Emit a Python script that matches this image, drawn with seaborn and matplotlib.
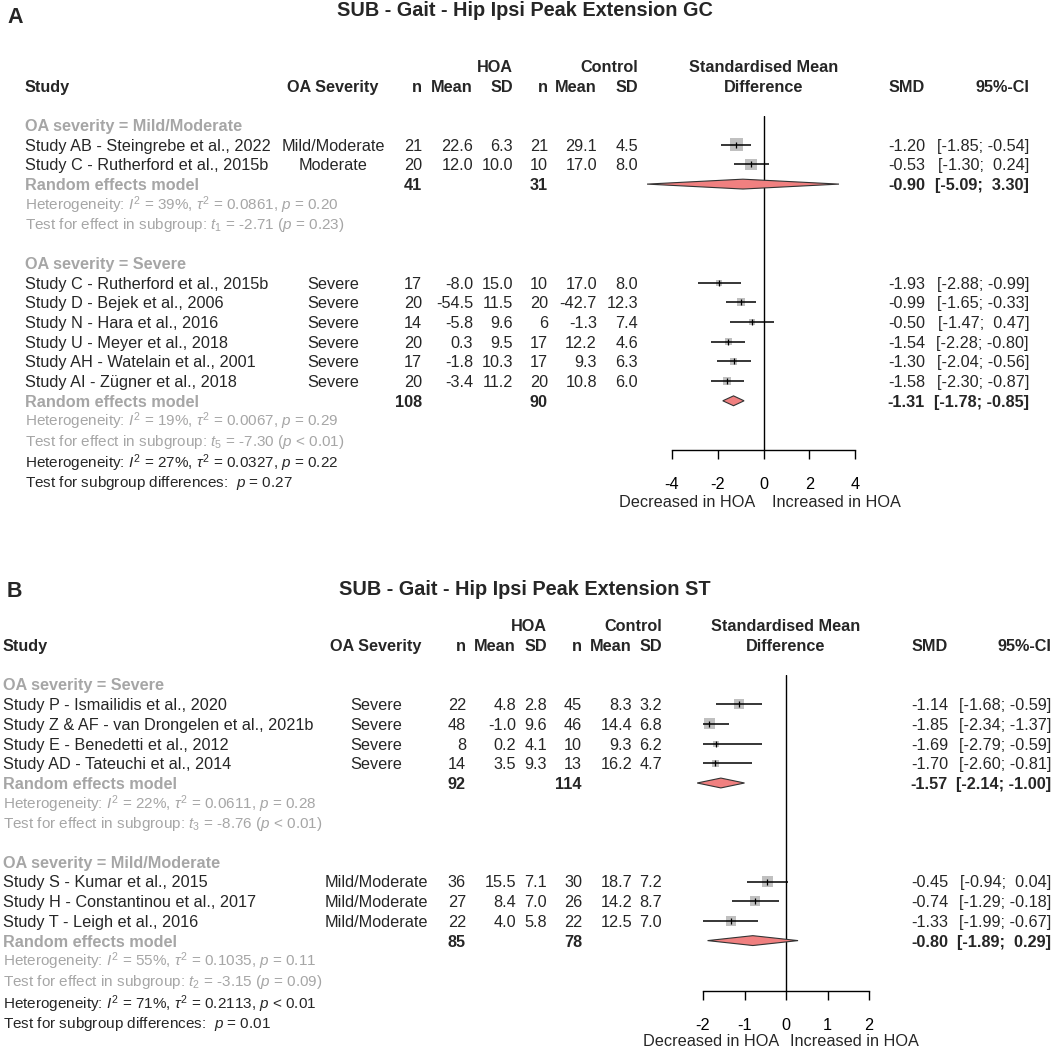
import numpy as np
import pandas as pd
import matplotlib
matplotlib.use("Agg")
import matplotlib.pyplot as plt
import matplotlib.transforms as mtransforms
import seaborn as sns

# ---------------- Panel A data ----------------
a_title = "SUB - Gait - Hip Ipsi Peak Extension GC"
a_groups = ["Mild/Moderate", "Severe"]
a_study = ["Study AB - Steingrebe et al., 2022", "Study C - Rutherford et al., 2015b",
           "Study C - Rutherford et al., 2015b", "Study D - Bejek et al., 2006",
           "Study N - Hara et al., 2016", "Study U - Meyer et al., 2018",
           "Study AH - Watelain et al., 2001", "Study AI - Zügner et al., 2018"]
a_group = ["Mild/Moderate", "Mild/Moderate", "Severe", "Severe", "Severe", "Severe", "Severe", "Severe"]
a_severity = ["Mild/Moderate", "Moderate", "Severe", "Severe", "Severe", "Severe", "Severe", "Severe"]
a_hoa_n = [21, 20, 17, 20, 14, 20, 17, 20]
a_hoa_mean = [22.6, 12.0, -8.0, -54.5, -5.8, 0.3, -1.8, -3.4]
a_hoa_sd = [6.3, 10.0, 15.0, 11.5, 9.6, 9.5, 10.3, 11.2]
a_ctl_n = [21, 10, 10, 20, 6, 17, 17, 20]
a_ctl_mean = [29.1, 17.0, 17.0, -42.7, -1.3, 12.2, 9.3, 10.8]
a_ctl_sd = [4.5, 8.0, 8.0, 12.3, 7.4, 4.6, 6.3, 6.0]
a_smd = [-1.20, -0.53, -1.93, -0.99, -0.50, -1.54, -1.30, -1.58]
a_lo = [-1.85, -1.30, -2.88, -1.65, -1.47, -2.28, -2.04, -2.30]
a_hi = [-0.54, 0.24, -0.99, -0.33, 0.47, -0.80, -0.56, -0.87]
a_weight = [55, 45, 11, 22, 11, 18, 18, 20]
a_re_hoa_n = [41, 108]
a_re_ctl_n = [31, 90]
a_re_smd = [-0.90, -1.31]
a_re_lo = [-5.09, -1.78]
a_re_hi = [3.30, -0.85]
a_i2 = [39, 19]
a_tau2 = ["0.0861", "0.0067"]
a_het_p = ["= 0.20", "= 0.29"]
a_t_df = [1, 5]
a_t = [-2.71, -7.30]
a_t_p = ["= 0.23", "< 0.01"]
a_all = (27, "0.0327", "= 0.22", "= 0.27")
a_ticks = [-4, -2, 0, 2, 4]

# ---------------- Panel B data ----------------
b_title = "SUB - Gait - Hip Ipsi Peak Extension ST"
b_groups = ["Severe", "Mild/Moderate"]
b_study = ["Study P - Ismailidis et al., 2020", "Study Z & AF - van Drongelen et al., 2021b",
           "Study E - Benedetti et al., 2012", "Study AD - Tateuchi et al., 2014",
           "Study S - Kumar et al., 2015", "Study H - Constantinou et al., 2017",
           "Study T - Leigh et al., 2016"]
b_group = ["Severe", "Severe", "Severe", "Severe", "Mild/Moderate", "Mild/Moderate", "Mild/Moderate"]
b_severity = b_group
b_hoa_n = [22, 48, 8, 14, 36, 27, 22]
b_hoa_mean = [4.8, -1.0, 0.2, 3.5, 15.5, 8.4, 4.0]
b_hoa_sd = [2.8, 9.6, 4.1, 9.3, 7.1, 7.0, 5.8]
b_ctl_n = [45, 46, 10, 13, 30, 26, 22]
b_ctl_mean = [8.3, 14.4, 9.3, 16.2, 18.7, 14.2, 12.5]
b_ctl_sd = [3.2, 6.8, 6.2, 4.7, 7.2, 8.7, 7.0]
b_smd = [-1.14, -1.85, -1.69, -1.70, -0.45, -0.74, -1.33]
b_lo = [-1.68, -2.34, -2.79, -2.60, -0.94, -1.29, -1.99]
b_hi = [-0.59, -1.37, -0.59, -0.81, 0.04, -0.18, -0.67]
b_weight = [33, 38, 12, 17, 37, 34, 29]
b_re_hoa_n = [92, 85]
b_re_ctl_n = [114, 78]
b_re_smd = [-1.57, -0.80]
b_re_lo = [-2.14, -1.89]
b_re_hi = [-1.00, 0.29]
b_i2 = [22, 55]
b_tau2 = ["0.0611", "0.1035"]
b_het_p = ["= 0.28", "= 0.11"]
b_t_df = [3, 2]
b_t = [-8.76, -3.15]
b_t_p = ["< 0.01", "= 0.09"]
b_all = (71, "0.2113", "< 0.01", "= 0.01")
b_ticks = [-2, -1, 0, 1, 2]

W, H = 1056, 1049
RH = 19.7
FS = 11.7
FS_HET = 11.0
GREY = "#A6A6A6"

sns.set_theme(style="white")
plt.rcParams["font.family"] = ["Liberation Sans", "DejaVu Sans"]
plt.rcParams["mathtext.fontset"] = "custom"
plt.rcParams["mathtext.rm"] = "Liberation Sans"
plt.rcParams["mathtext.it"] = "Liberation Sans:italic"
plt.rcParams["mathtext.bf"] = "Liberation Sans:bold"
plt.rcParams["axes.unicode_minus"] = False

fig = plt.figure(figsize=(W / 100, H / 100), dpi=100)


def ci_txt(lo, hi):
    f = lambda v: f"{v:.2f}" if v < 0 else f" {v:.2f}"
    return f"[{f(lo)}; {f(hi)}]"


def draw_panel(d, lay):
    y0 = lay["y0"]
    row = lambda py: (py - y0) / RH
    x0, x1 = lay["tick_px"]
    ax = fig.add_axes([x0 / W, 1 - lay["axis_px"] / H, (x1 - x0) / W,
                       (lay["axis_px"] - lay["top_px"]) / H])
    ax.patch.set_visible(False)
    tr = mtransforms.blended_transform_factory(fig.transFigure, ax.transData)
    c = lay["cols"]

    def put(col, r, s, ha="right", fs=FS, **kw):
        ax.text(c[col] / W, r + 0.3, s, transform=tr, ha=ha, va="baseline",
                fontsize=fs, clip_on=False, **kw)

    def mid(r, s, **kw):
        ax.text(0, r + 0.3, s, ha="center", va="baseline", fontsize=FS,
                fontweight="bold", clip_on=False, **kw)

    # headers
    put("sd1", -3, "HOA", fontweight="bold")
    put("sd2", -3, "Control", fontweight="bold")
    mid(-3, "Standardised Mean")
    put("study", -2, "Study", ha="left", fontweight="bold")
    put("sev", -2, "OA Severity", ha="center", fontweight="bold")
    for k, s in [("n1", "n"), ("m1", "Mean"), ("sd1", "SD"), ("n2", "n"),
                 ("m2", "Mean"), ("sd2", "SD"), ("smd", "SMD"), ("ci", "95%-CI")]:
        put(k, -2, s, fontweight="bold")
    mid(-2, "Difference")

    r = 0
    pts = []
    for g, grp in enumerate(d["groups"]):
        put("study", r, f"OA severity = {grp}", ha="left", color=GREY, fontweight="bold")
        r += 1
        for i in [i for i, s in enumerate(d["group"]) if s == grp]:
            put("study", r, d["study"][i], ha="left")
            put("sev", r, d["severity"][i], ha="center")
            put("n1", r, f"{d['hoa_n'][i]}")
            put("m1", r, f"{d['hoa_mean'][i]:.1f}")
            put("sd1", r, f"{d['hoa_sd'][i]:.1f}")
            put("n2", r, f"{d['ctl_n'][i]}")
            put("m2", r, f"{d['ctl_mean'][i]:.1f}")
            put("sd2", r, f"{d['ctl_sd'][i]:.1f}")
            put("smd", r, f"{d['smd'][i]:.2f}")
            put("ci", r, ci_txt(d["lo"][i], d["hi"][i]))
            pts.append((d["smd"][i], d["lo"][i], d["hi"][i], d["weight"][i], r))
            r += 1
        put("study", r, "Random effects model", ha="left", color=GREY, fontweight="bold")
        put("n1", r, f"{d['re_hoa_n'][g]}", fontweight="bold")
        put("n2", r, f"{d['re_ctl_n'][g]}", fontweight="bold")
        put("smd", r, f"{d['re_smd'][g]:.2f}", fontweight="bold")
        put("ci", r, ci_txt(d["re_lo"][g], d["re_hi"][g]), fontweight="bold")
        est, lo, hi = d["re_smd"][g], d["re_lo"][g], d["re_hi"][g]
        hh = 0.25
        ax.fill([lo, est, hi, est], [r, r - hh, r, r + hh], facecolor="#F08080",
                edgecolor="#333333", lw=0.8, clip_on=False, zorder=3)
        r += 1
        put("study", r, f"Heterogeneity: $I^2$ = {d['i2'][g]}%, $\\tau^2$ = {d['tau2'][g]}, "
                        f"$p$ {d['het_p'][g]}", ha="left", fs=FS_HET, color=GREY)
        r += 1
        put("study", r, f"Test for effect in subgroup: $t_{{{d['t_df'][g]}}}$ = {d['t'][g]:.2f} "
                        f"($p$ {d['t_p'][g]})", ha="left", fs=FS_HET, color=GREY)
        r += 2

    i2, tau2, hp, sp = d["all"]
    ro = row(lay["overall_px"])
    put("study", ro, f"Heterogeneity: $I^2$ = {i2}%, $\\tau^2$ = {tau2}, $p$ {hp}",
        ha="left", fs=FS_HET)
    put("study", ro + 0.95, f"Test for subgroup differences:  $p$ {sp}", ha="left", fs=FS_HET)

    df = pd.DataFrame(pts, columns=["smd", "lo", "hi", "weight", "row"])
    sns.scatterplot(data=df, x="smd", y="row", size="weight", sizes=(0, 160),
                    size_norm=(0, 100), marker="s", color="#C0C0C0", linewidth=0,
                    legend=False, ax=ax, zorder=2)
    ax.hlines(df["row"], df["lo"], df["hi"], color="black", lw=1.1, zorder=3)
    ax.scatter(df["smd"], df["row"], marker="|", s=14, color="black", lw=0.9, zorder=4)
    ax.axvline(0, color="black", lw=1, zorder=1)

    ticks = d["ticks"]
    ax.set_xlim(ticks[0], ticks[-1])
    ax.set_ylim(row(lay["axis_px"]), row(lay["top_px"]))
    ax.set_xticks(ticks)
    ax.set_xticklabels([str(t) for t in ticks])
    ax.set_yticks([])
    ax.set_xlabel("")
    ax.set_ylabel("")
    sns.despine(ax=ax, left=True)
    ax.spines["bottom"].set_color("black")
    ax.spines["bottom"].set_linewidth(1)
    ax.tick_params(axis="x", bottom=True, direction="out", length=6.5, width=1,
                   pad=13, labelsize=FS, colors="black")

    rd = row(lay["dec_px"]) + 0.3
    ax.annotate("Decreased in HOA", xy=(0, rd), xytext=(lay["dec_dx"] * 0.72, 0),
                textcoords="offset points", ha="right", va="baseline", fontsize=FS,
                annotation_clip=False)
    ax.annotate("Increased in HOA", xy=(0, rd), xytext=(lay["inc_dx"] * 0.72, 0),
                textcoords="offset points", ha="left", va="baseline", fontsize=FS,
                annotation_clip=False)

    fig.text(525 / W, 1 - lay["title_px"] / H, d["title"], ha="center", va="baseline",
             fontsize=14.3, fontweight="bold")
    fig.text(7 / W, 1 - lay["label_px"] / H, lay["label"], ha="left", va="baseline",
             fontsize=15.5, fontweight="bold")


panel_a = dict(title=a_title, groups=a_groups, study=a_study, group=a_group, severity=a_severity,
               hoa_n=a_hoa_n, hoa_mean=a_hoa_mean, hoa_sd=a_hoa_sd, ctl_n=a_ctl_n,
               ctl_mean=a_ctl_mean, ctl_sd=a_ctl_sd, smd=a_smd, lo=a_lo, hi=a_hi,
               weight=a_weight, re_hoa_n=a_re_hoa_n, re_ctl_n=a_re_ctl_n, re_smd=a_re_smd,
               re_lo=a_re_lo, re_hi=a_re_hi, i2=a_i2, tau2=a_tau2, het_p=a_het_p,
               t_df=a_t_df, t=a_t, t_p=a_t_p, all=a_all, ticks=a_ticks)
panel_b = dict(title=b_title, groups=b_groups, study=b_study, group=b_group, severity=b_severity,
               hoa_n=b_hoa_n, hoa_mean=b_hoa_mean, hoa_sd=b_hoa_sd, ctl_n=b_ctl_n,
               ctl_mean=b_ctl_mean, ctl_sd=b_ctl_sd, smd=b_smd, lo=b_lo, hi=b_hi,
               weight=b_weight, re_hoa_n=b_re_hoa_n, re_ctl_n=b_re_ctl_n, re_smd=b_re_smd,
               re_lo=b_re_lo, re_hi=b_re_hi, i2=b_i2, tau2=b_tau2, het_p=b_het_p,
               t_df=b_t_df, t=b_t, t_p=b_t_p, all=b_all, ticks=b_ticks)

layout_a = dict(y0=125, tick_px=(672, 855), top_px=116, axis_px=450, overall_px=462,
                dec_px=501, dec_dx=-8, inc_dx=9, title_px=16, label_px=23, label="A",
                cols=dict(study=25, sev=333, n1=422, m1=473, sd1=513, n2=548, m2=597,
                          sd2=638, smd=925, ci=1029))
layout_b = dict(y0=684.5, tick_px=(703, 869), top_px=675, axis_px=991, overall_px=1003,
                dec_px=1040, dec_dx=-7, inc_dx=4, title_px=595, label_px=597, label="B",
                cols=dict(study=3, sev=376, n1=466, m1=516, sd1=547, n2=582, m2=632,
                          sd2=662, smd=948, ci=1051))

draw_panel(panel_a, layout_a)
draw_panel(panel_b, layout_b)

fig.savefig("out.png", dpi=100, facecolor="white")
